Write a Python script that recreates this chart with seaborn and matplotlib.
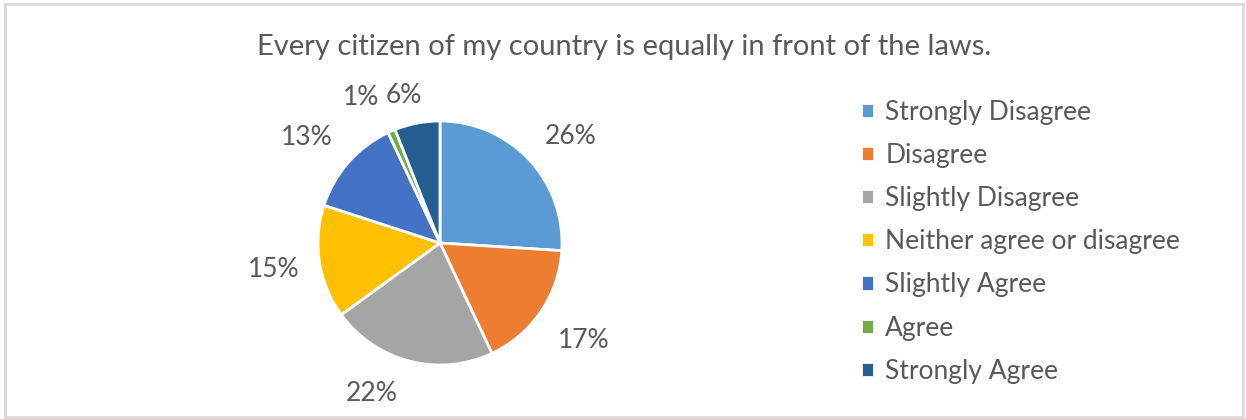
import numpy as np
import matplotlib
matplotlib.use("Agg")
import matplotlib.pyplot as plt
import seaborn as sns
from matplotlib.patches import Rectangle

# Survey responses
categories = ["Strongly Disagree", "Disagree", "Slightly Disagree",
              "Neither agree or disagree", "Slightly Agree", "Agree",
              "Strongly Agree"]
shares = [26, 17, 22, 15, 13, 1, 6]
colors = ["#5B9BD5", "#ED7D31", "#A5A5A5", "#FFC000", "#4472C4", "#70AD47", "#255E91"]
title = "Every citizen of my country is equally in front of the laws."

sns.set_theme(style="white")
plt.rcParams["font.family"] = ["Lato", "DejaVu Sans"]
text_color = "#595959"
palette = sns.color_palette(colors)

W, H = 1246, 419
fig = plt.figure(figsize=(W / 100, H / 100), dpi=100)
fig.patch.set_facecolor("white")

# chart frame
fig.add_artist(Rectangle((4.5 / W, 2.5 / H), (W - 8) / W, (H - 7) / H,
                         transform=fig.transFigure, fill=False,
                         edgecolor="#D9D9D9", linewidth=2))

cx, cy, r = 440, 243, 122
ax = fig.add_axes([(cx - r) / W, (H - cy - r) / H, 2 * r / W, 2 * r / H])
wedges, _, autotexts = ax.pie(
    shares, colors=palette, startangle=90, counterclock=False,
    autopct=lambda p: f"{p:.0f}%", pctdistance=1.38,
    wedgeprops=dict(edgecolor="white", linewidth=2),
    textprops=dict(color=text_color, fontsize=19))
ax.set_xlim(-1, 1)
ax.set_ylim(-1, 1)
ax.set_aspect("equal")
ax.axis("off")

# nudge crowded labels around the wedge centres (degrees, radius factor)
nudges = [(-4, 1.0), (0, 1.03), (-10, 0.98), (0, 1.0), (3, 1.01), (5, 0.98), (3, 0.9)]
theta = 90.0
for w, t, val, (da, dr) in zip(wedges, autotexts, shares, nudges):
    span = val / sum(shares) * 360
    mid = np.deg2rad(theta - span / 2 + da)
    theta -= span
    t.set_position((1.38 * dr * np.cos(mid), 1.38 * dr * np.sin(mid)))
    t.set_ha("center")
    t.set_va("center")

fig.text(624 / W, 1 - 47 / H, title, ha="center", va="center",
         fontsize=21, color=text_color)

leg = fig.legend(wedges, categories, loc="upper left",
                 bbox_to_anchor=(850 / W, 1 - 89 / H), frameon=False,
                 fontsize=19, labelcolor=text_color, handlelength=0.5,
                 handleheight=0.5, handletextpad=0.44, labelspacing=0.69,
                 borderaxespad=0)

fig.savefig("out.png", dpi=100, facecolor="white")
